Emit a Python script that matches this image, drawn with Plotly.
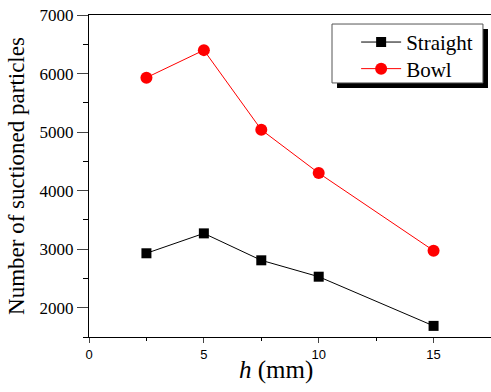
import plotly.graph_objects as go

h_vals = [2.5, 5, 7.5, 10, 15]
straight = [2930, 3270, 2810, 2530, 1690]
bowl = [5930, 6400, 5040, 4300, 2975]
x_ticks = [0, 5, 10, 15]
y_ticks = [2000, 3000, 4000, 5000, 6000, 7000]

serif = "Liberation Serif, Times New Roman, serif"
sans = "Liberation Sans, Arial, sans-serif"

fig = go.Figure()
fig.add_trace(go.Scatter(x=h_vals, y=straight, mode="lines+markers", name="Straight",
                         line=dict(color="black", width=1), legend="legend",
                         marker=dict(symbol="square", size=10, color="black")))
fig.add_trace(go.Scatter(x=h_vals, y=bowl, mode="lines+markers", name="Bowl",
                         line=dict(color="#ff0000", width=1), legend="legend2",
                         marker=dict(symbol="circle", size=12, color="#ff0000")))

# legend box shadow and frame
fig.add_shape(type="rect", xref="paper", yref="paper", x0=0.617, x1=0.9925, y0=0.773, y1=0.9565,
              fillcolor="black", line=dict(width=0), layer="above")
fig.add_shape(type="rect", xref="paper", yref="paper", x0=0.6045, x1=0.980, y0=0.789, y1=0.972,
              fillcolor="white", line=dict(color="#555555", width=1), layer="above")

fig.add_annotation(text="<i>h</i> (mm)", xref="paper", yref="paper", x=0.465, y=0,
                   yshift=-17, xanchor="center", yanchor="top", showarrow=False,
                   font=dict(family=serif, size=25, color="black"))

leg_common = dict(xanchor="left", yanchor="top", bgcolor="rgba(0,0,0,0)", borderwidth=0,
                  font=dict(family=serif, size=21, color="black"), itemwidth=40)

fig.update_layout(
    width=491, height=392,
    margin=dict(l=89, r=0, t=15, b=55),
    paper_bgcolor="white", plot_bgcolor="white",
    showlegend=True,
    legend=dict(x=0.6645, y=0.9786, **leg_common),
    legend2=dict(x=0.6645, y=0.896, **leg_common),
    xaxis=dict(range=[0, 17.5], tickvals=x_ticks, ticks="outside", ticklen=5,
               showline=True, linecolor="black", linewidth=1, mirror=True,
               showgrid=False, zeroline=False, automargin=False,
               tickfont=dict(family=sans, size=13, color="black"),
               minor=dict(ticks="outside", ticklen=3, dtick=2.5, tickcolor="black")),
    yaxis=dict(range=[1500, 7000], tickvals=y_ticks, ticks="outside", ticklen=11,
               showline=True, linecolor="black", linewidth=1, mirror=False,
               showgrid=False, zeroline=False, automargin=False,
               tickfont=dict(family=serif, size=17, color="black"),
               title=dict(text="Number of suctioned particles", standoff=8,
                          font=dict(family=serif, size=23, color="black")),
               minor=dict(ticks="outside", ticklen=5, dtick=500, tickcolor="black")),
)

fig.write_html("out.html", config={"displayModeBar": False},
               post_script="document.body.style.margin='0';")
